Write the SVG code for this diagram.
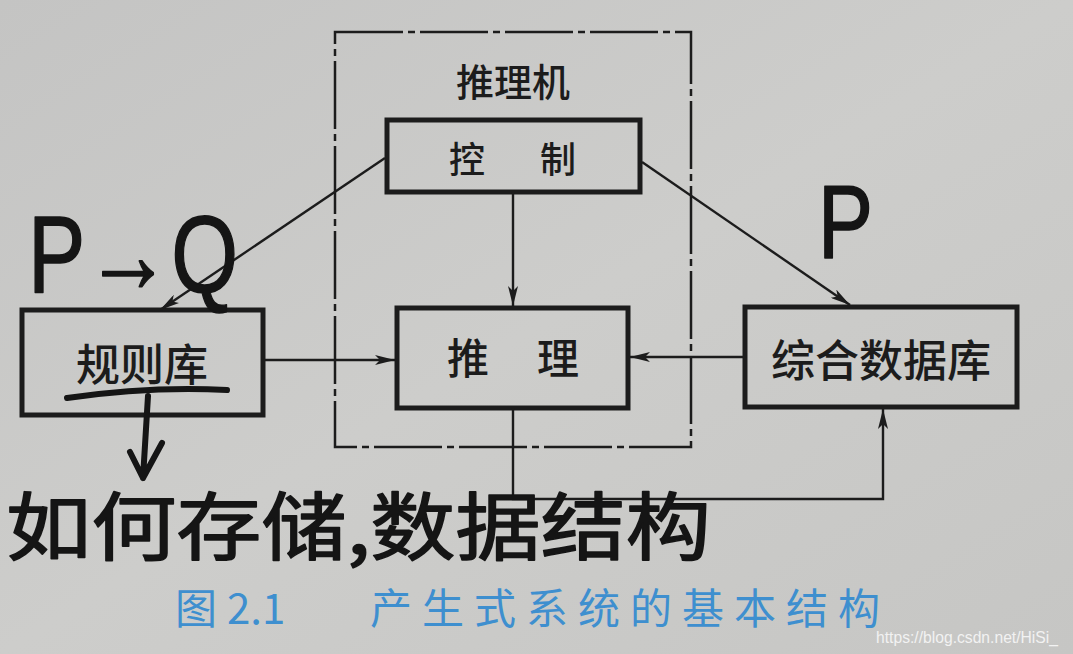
<svg xmlns="http://www.w3.org/2000/svg" width="1073" height="654" viewBox="0 0 1073 654">
  <defs>
    <linearGradient id="paper" x1="0" y1="0" x2="1" y2="1">
      <stop offset="0" stop-color="#c4c4c3"/>
      <stop offset="0.5" stop-color="#cdcdcb"/>
      <stop offset="1" stop-color="#c6c6c4"/>
    </linearGradient>
    <marker id="arr" viewBox="0 0 20 10" refX="20" refY="5" markerWidth="20" markerHeight="10" markerUnits="userSpaceOnUse" orient="auto">
      <path d="M0,0 L20,5 L0,10 L5,5 Z" fill="#1c1c1c"/>
    </marker>
    <style>
      .box { fill: none; stroke: #1c1c1c; stroke-width: 5; }
      .frame { fill: none; stroke: #1c1c1c; stroke-width: 2.5; stroke-dasharray: 68 5 7 5; }
      .conn { fill: none; stroke: #1c1c1c; stroke-width: 2.4; }
      .lbl { font-family: "Noto Sans CJK SC", "Noto Sans", sans-serif; fill: #1c1c1c; text-anchor: middle; font-weight: 500; }
      .hand { font-family: "Liberation Sans", "Noto Sans CJK SC", sans-serif; fill: #151515; stroke: #151515; stroke-width: 1.5; stroke-linejoin: round; }
      .handcjk { font-family: "Noto Sans CJK SC", sans-serif; fill: #151515; font-weight: 400; stroke: #151515; stroke-width: 1.5; stroke-linejoin: round; }
      .ink { fill: none; stroke: #151515; stroke-width: 6; stroke-linecap: round; stroke-linejoin: round; }
      .cap { font-family: "Noto Sans CJK SC", sans-serif; fill: #3e8fcf; font-weight: 400; }
    </style>
  </defs>
  <rect width="1073" height="654" fill="url(#paper)"/>

  <!-- inference engine frame -->
  <g id="engine">
    <rect class="frame" x="335" y="32" width="356" height="415"/>
    <text class="lbl" x="513" y="96" font-size="38" font-weight="700">推理机</text>
  </g>

  <g id="control">
    <rect class="box" x="387" y="120" width="253" height="72"/>
    <text class="lbl" x="467" y="173" font-size="36">控</text>
    <text class="lbl" x="558" y="173" font-size="36">制</text>
  </g>

  <g id="rules">
    <rect class="box" x="22" y="310" width="241" height="105"/>
    <text class="lbl" x="142" y="381" font-size="44">规则库</text>
  </g>

  <g id="reasoning">
    <rect class="box" x="397" y="308" width="231" height="100"/>
    <text class="lbl" x="468" y="374" font-size="42">推</text>
    <text class="lbl" x="558" y="374" font-size="42">理</text>
  </g>

  <g id="database">
    <rect class="box" x="745" y="307" width="272" height="100"/>
    <text class="lbl" x="881" y="377" font-size="44">综合数据库</text>
  </g>

  <g id="connectors">
    <line class="conn" x1="385" y1="158" x2="160" y2="310" marker-end="url(#arr)"/>
    <line class="conn" x1="642" y1="162" x2="850" y2="305" marker-end="url(#arr)"/>
    <line class="conn" x1="513" y1="192" x2="513" y2="306" marker-end="url(#arr)"/>
    <line class="conn" x1="263" y1="360" x2="395" y2="360" marker-end="url(#arr)"/>
    <line class="conn" x1="745" y1="357" x2="630" y2="357" marker-end="url(#arr)"/>
    <polyline class="conn" points="513,408 513,499 883,499 883,409" marker-end="url(#arr)"/>
  </g>

  <!-- handwritten annotations -->
  <g id="annotations">
    <text class="hand" x="28" y="292" font-size="110" textLength="210" lengthAdjust="spacingAndGlyphs">P→Q</text>
    <text class="hand" x="818" y="258" font-size="104" textLength="55" lengthAdjust="spacingAndGlyphs">P</text>
    <path class="ink" d="M67,398 Q150,386 227,390"/>
    <path class="ink" d="M148,396 L143,478 M130,452 L143,478 L162,443"/>
    <text class="handcjk" x="6" y="554" font-size="74" textLength="705" lengthAdjust="spacingAndGlyphs">如何存储,数据结构</text>
  </g>

  <g id="caption">
    <text class="cap" x="175" y="624" font-size="42">图</text>
    <text class="cap" x="227" y="624" font-size="42" font-family="Liberation Sans, sans-serif">2.1</text>
    <text class="cap" x="370" y="624" font-size="42" textLength="510" lengthAdjust="spacing">产生式系统的基本结构</text>
  </g>

  <text x="876" y="643" font-family="Liberation Sans, sans-serif" font-size="17" fill="#f2f2f2" textLength="182" lengthAdjust="spacingAndGlyphs">https://blog.csdn.net/HiSi_</text>
</svg>
